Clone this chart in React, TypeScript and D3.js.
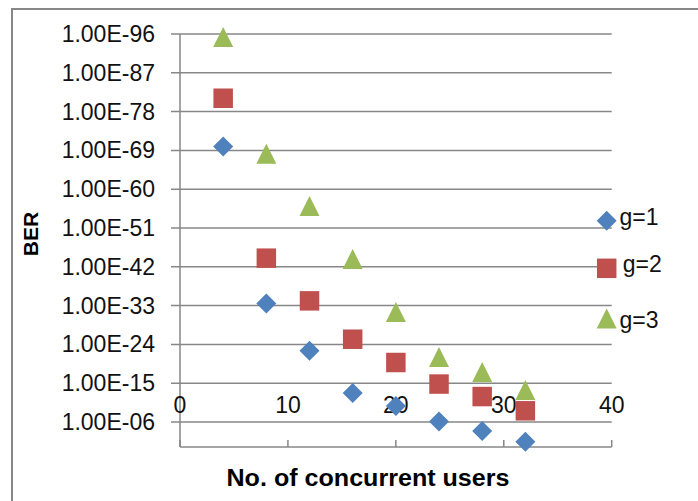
import { useEffect, useRef } from "react";
import * as d3 from "d3";

// number of concurrent users
const users = [4, 8, 12, 16, 20, 24, 28, 32];
// BER exponents (value = 10^exp)
const berG1 = [-69.9, -33.5, -22.5, -12.7, -9.7, -6.1, -3.9, -1.4];
const berG2 = [-81.1, -44, -34.1, -25.2, -19.8, -14.8, -11.9, -8.6];
const berG3 = [-95.3, -68.2, -56.1, -43.8, -31.5, -21.1, -17.6, -13.4];
const seriesNames = ["g=1", "g=2", "g=3"];
const yTickExps = [-6, -15, -24, -33, -42, -51, -60, -69, -78, -87, -96];
const xTicks = [0, 10, 20, 30, 40];

const colors = ["#4F81BD", "#C0504D", "#9BBB59"];

// excel-like marker shapes, ~20px
const triangle = () => {
  const p = d3.path();
  p.moveTo(0, -10);
  p.lineTo(10, 10);
  p.lineTo(-10, 10);
  p.closePath();
  return p.toString();
};
const markerPath = (i) => {
  if (i === 0) return d3.symbol().type(d3.symbolSquare).size(200)();
  if (i === 1) return d3.symbol().type(d3.symbolSquare).size(380)();
  return triangle();
};
const markerRot = (i) => (i === 0 ? " rotate(45)" : "");

const App = () => {
  const svgRef = useRef(null);

  useEffect(() => {
    const width = 698;
    const height = 501;
    const left = 180, right = 611.7, top = 34, bottom = 447;

    const svg = d3
      .select(svgRef.current)
      .attr("width", width)
      .attr("height", height)
      .style("font-family", "'Liberation Sans', Arial, sans-serif");

    svg.selectAll("*").remove();

    const x = d3.scaleLinear().domain([0, 40]).range([left, right]);
    // reversed log axis: small values on top
    const y = d3.scaleLog().domain([1e-96, Math.pow(10, -0.2)]).range([top, bottom]);

    svg
      .append("rect")
      .attr("x", 12)
      .attr("y", 9)
      .attr("width", 720)
      .attr("height", 520)
      .attr("fill", "#fff")
      .attr("stroke", "#888")
      .attr("stroke-width", 2);

    // gridlines + y labels
    const gy = svg.append("g");
    gy.selectAll("line")
      .data(yTickExps)
      .join("line")
      .attr("x1", left - 9)
      .attr("x2", right)
      .attr("y1", (d) => y(Math.pow(10, d)))
      .attr("y2", (d) => y(Math.pow(10, d)))
      .attr("stroke", "#878787")
      .attr("stroke-width", 1.5);
    gy.selectAll("text")
      .data(yTickExps)
      .join("text")
      .attr("x", 155)
      .attr("y", (d) => y(Math.pow(10, d)))
      .attr("dy", "0.35em")
      .attr("text-anchor", "end")
      .attr("font-size", 23)
      .attr("fill", "#111")
      .text((d) => `1.00E-${String(-d).padStart(2, "0")}`);

    // axes lines
    svg.append("line")
      .attr("x1", left).attr("x2", left)
      .attr("y1", top).attr("y2", bottom)
      .attr("stroke", "#878787").attr("stroke-width", 1.5);
    svg.append("line")
      .attr("x1", left).attr("x2", right)
      .attr("y1", bottom).attr("y2", bottom)
      .attr("stroke", "#878787").attr("stroke-width", 1.5);
    svg.append("g")
      .selectAll("line")
      .data(xTicks)
      .join("line")
      .attr("x1", (d) => x(d)).attr("x2", (d) => x(d))
      .attr("y1", bottom - 7).attr("y2", bottom)
      .attr("stroke", "#878787").attr("stroke-width", 1.5);

    svg.append("g")
      .selectAll("text")
      .data(xTicks)
      .join("text")
      .attr("x", (d) => x(d))
      .attr("y", 405)
      .attr("dy", "0.35em")
      .attr("text-anchor", "middle")
      .attr("font-size", 23)
      .attr("fill", "#111")
      .text((d) => d);

    // points
    const all = [berG1, berG2, berG3];
    all.forEach((vals, i) => {
      svg.append("g")
        .selectAll("path")
        .data(vals)
        .join("path")
        .attr("d", markerPath(i))
        .attr("transform", (d, j) => `translate(${x(users[j])},${y(Math.pow(10, d))})${markerRot(i)}`)
        .attr("fill", colors[i]);
    });

    // legend
    const legY = [220.7, 268.3, 318.5];
    const legTextY = [225, 272, 328];
    seriesNames.forEach((name, i) => {
      svg.append("path")
        .attr("d", markerPath(i))
        .attr("transform", `translate(606.7,${legY[i]})${markerRot(i)}`)
        .attr("fill", colors[i]);
      svg.append("text")
        .attr("x", i === 1 ? 622.7 : 619.5)
        .attr("y", legTextY[i])
        .attr("font-size", 23)
        .attr("fill", "#111")
        .text(name);
    });

    // axis titles
    svg.append("text")
      .attr("transform", "translate(38,234) rotate(-90)")
      .attr("text-anchor", "middle")
      .attr("font-size", 21)
      .attr("font-weight", "bold")
      .attr("fill", "#000")
      .text("BER");
    svg.append("text")
      .attr("x", 368)
      .attr("y", 486)
      .attr("text-anchor", "middle")
      .attr("font-size", 23)
      .attr("font-weight", "bold")
      .attr("fill", "#000")
      .attr("textLength", 283)
      .attr("lengthAdjust", "spacingAndGlyphs")
      .text("No. of concurrent users");

    return () => {
      svg.selectAll("*").remove();
    };
  }, []);

  return (
    <div style={{ position: "absolute", left: 0, top: 0 }}>
      <svg ref={svgRef}></svg>
    </div>
  );
};

export default App;
